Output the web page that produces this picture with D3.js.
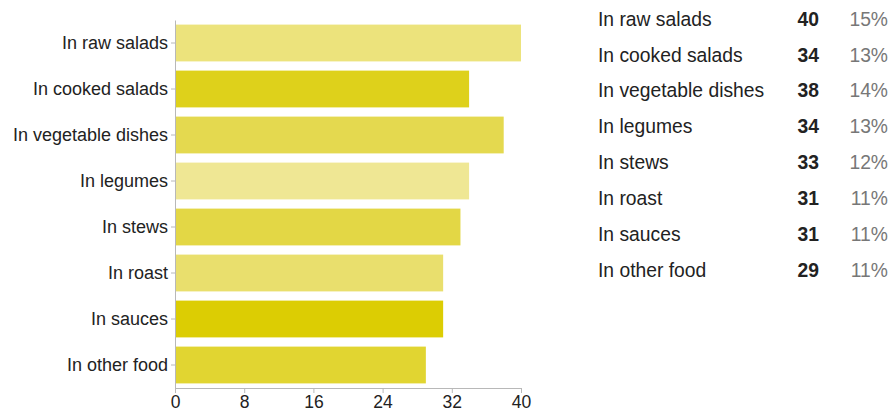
<!DOCTYPE html>
<html>
<head>
<meta charset="utf-8">
<script src="https://cdn.jsdelivr.net/npm/d3@7"></script>
<style>
  html, body { margin: 0; padding: 0; background: #fff; }
  svg { display: block; font-family: "Liberation Sans", Arial, sans-serif; }
</style>
</head>
<body>
<svg id="chart" width="891" height="414"></svg>
<script>
// Where the ingredient is used, with counts and shares
const categories = ["In raw salads", "In cooked salads", "In vegetable dishes", "In legumes",
                    "In stews", "In roast", "In sauces", "In other food"];
const counts = [40, 34, 38, 34, 33, 31, 31, 29];
const percentLabels = ["15%", "13%", "14%", "13%", "12%", "11%", "11%", "11%"];
const barColors = ["#ece37c", "#ded11b", "#e4d94f", "#efe794", "#e3d745", "#e9df6d", "#dccd03", "#e1d531"];
const xTicks = [0, 8, 16, 24, 32, 40];

const svg = d3.select("#chart");

const margin = { left: 175, top: 20, bottom: 388 };
const x = d3.scaleLinear().domain([0, 40]).range([175, 521]);
const y = d3.scaleBand().domain(categories).range([margin.top, margin.bottom])
  .paddingInner(0.2).paddingOuter(0.1);

// Bars
svg.append("g").selectAll("rect")
  .data(categories)
  .join("rect")
  .attr("x", x(0))
  .attr("y", d => y(d))
  .attr("width", (d, i) => x(counts[i]) - x(0))
  .attr("height", y.bandwidth())
  .attr("fill", (d, i) => barColors[i]);

// Category axis
const yAxis = svg.append("g")
  .attr("transform", `translate(${x(0)},0)`)
  .call(d3.axisLeft(y).tickSize(4).tickSizeOuter(0).tickPadding(3));
yAxis.select(".domain").attr("stroke", "#b8b8b8");
yAxis.selectAll(".tick line").attr("stroke", "#b8b8b8");
yAxis.selectAll(".tick text").attr("fill", "#222").style("font-size", "18px");

// Value axis
const xAxis = svg.append("g")
  .attr("transform", `translate(0,${margin.bottom})`)
  .call(d3.axisBottom(x).tickValues(xTicks).tickSize(5).tickSizeOuter(0).tickPadding(3));
xAxis.select(".domain").attr("stroke", "#b8b8b8");
xAxis.selectAll(".tick line").attr("stroke", "#b8b8b8");
xAxis.selectAll(".tick text").attr("fill", "#222").style("font-size", "17.5px");

// Summary table
const rowY = d3.scalePoint().domain(categories).range([19, 270]);
const table = svg.append("g").style("font-size", "19.3px");
table.selectAll("text.name")
  .data(categories).join("text")
  .attr("class", "name")
  .attr("x", 598).attr("y", d => rowY(d)).attr("dy", "0.35em")
  .attr("fill", "#222").text(d => d);
table.selectAll("text.count")
  .data(categories).join("text")
  .attr("class", "count")
  .attr("x", 819).attr("y", d => rowY(d)).attr("dy", "0.35em")
  .attr("text-anchor", "end").attr("font-weight", "bold")
  .attr("fill", "#222").text((d, i) => counts[i]);
table.selectAll("text.pct")
  .data(categories).join("text")
  .attr("class", "pct")
  .attr("x", 888).attr("y", d => rowY(d)).attr("dy", "0.35em")
  .attr("text-anchor", "end")
  .attr("fill", "#777").text((d, i) => percentLabels[i]);
</script>
</body>
</html>
